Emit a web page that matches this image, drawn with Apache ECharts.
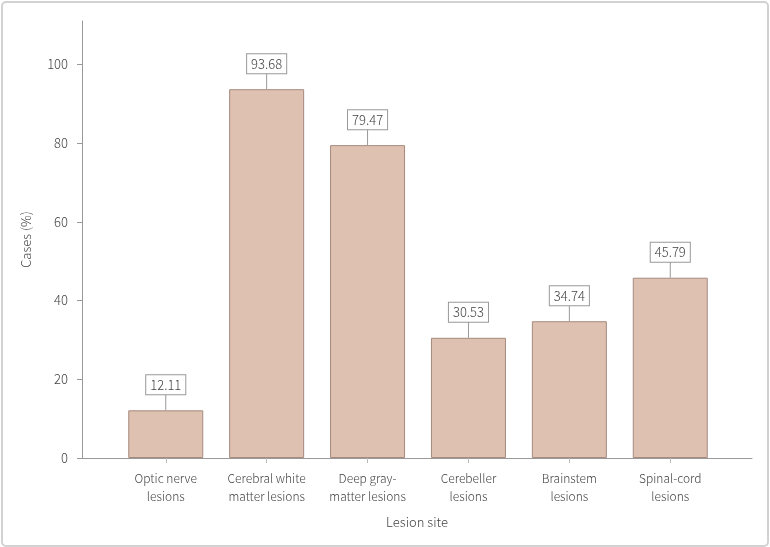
<!DOCTYPE html>
<html>
<head>
<meta charset="UTF-8">
<title>Lesion site</title>
<script type="text/javascript" src="https://cdn.jsdelivr.net/npm/echarts@6/dist/echarts.min.js"></script>
<style>
body{margin:0;padding:0;background:#fff;}
#frame{position:absolute;left:1px;top:1px;width:764px;height:542px;border:2px solid #d2d2d2;border-radius:5px;}
#main{position:absolute;left:0;top:0;width:770px;height:547px;}
</style>
</head>
<body>
<div id="frame"></div>
<div id="main"></div>

<script type="text/javascript">
// categories (two-line labels)
var sites=['Optic nerve\nlesions','Cerebral white\nmatter lesions','Deep gray-\nmatter lesions','Cerebeller\nlesions','Brainstem\nlesions','Spinal-cord\nlesions'];
// cases (%)
var cases=[12.11,93.68,79.47,30.53,34.74,45.79];
var yTicks=[0,20,40,60,80,100];

var font='"Noto Sans CJK KR","Noto Sans",sans-serif';
var idx=sites.map(function(s,i){return i;});
var barData=cases.map(function(v,i){return [i,v];});

var mychart=echarts.init(document.getElementById('main'));

var option={
    animation:false,
    grid:{left:82,right:18,top:21,bottom:89,containLabel:false},
    xAxis:{
        type:'value',
        min:-0.83,
        max:5.81,
        name:'Lesion site',
        nameLocation:'middle',
        nameGap:58,
        nameTextStyle:{fontFamily:font,fontSize:13,color:'#444',fontWeight:300},
        axisLine:{show:true,onZero:false,lineStyle:{color:'#999',width:1}},
        axisTick:{show:true,length:5,customValues:idx,lineStyle:{color:'#bbb'}},
        axisLabel:{
            customValues:idx,
            margin:11,
            fontFamily:font,fontSize:12,color:'#444',fontWeight:300,lineHeight:18,
            formatter:function(v){return sites[Math.round(v)];}
        },
        splitLine:{show:false}
    },
    yAxis:{
        type:'value',
        min:0,
        max:111,
        name:'Cases (%)',
        nameLocation:'middle',
        nameGap:49,
        nameTextStyle:{fontFamily:font,fontSize:13,color:'#444',fontWeight:300},
        axisLine:{show:true,onZero:false,lineStyle:{color:'#999',width:1}},
        axisTick:{show:true,length:5,customValues:yTicks,lineStyle:{color:'#999'}},
        axisLabel:{customValues:yTicks,margin:14,fontFamily:font,fontSize:13,color:'#444',fontWeight:300},
        splitLine:{show:false}
    },
    series:[{
        name:'Cases',
        type:'bar',
        barWidth:75,
        data:barData,
        itemStyle:{color:'#dfc1b1',borderColor:'#a68a7e',borderWidth:1},
        label:{
            show:true,
            position:'top',
            distance:16,
            formatter:function(p){return p.value[1].toFixed(2);},
            fontFamily:font,fontSize:13,color:'#444',fontWeight:300,
            backgroundColor:'#fff',
            borderColor:'#999',
            borderWidth:1,
            padding:[3,4]
        }
    },{
        // leader lines from bar top to label box
        name:'leader',
        type:'custom',
        data:barData,
        clip:false,
        silent:true,
        z:1,
        renderItem:function(params,api){
            var p=api.coord([api.value(0),api.value(1)]);
            return {type:'line',shape:{x1:p[0],y1:p[1],x2:p[0],y2:p[1]-16},style:{stroke:'#999',lineWidth:1}};
        }
    }]
};

mychart.setOption(option);
</script>
</body>
</html>
